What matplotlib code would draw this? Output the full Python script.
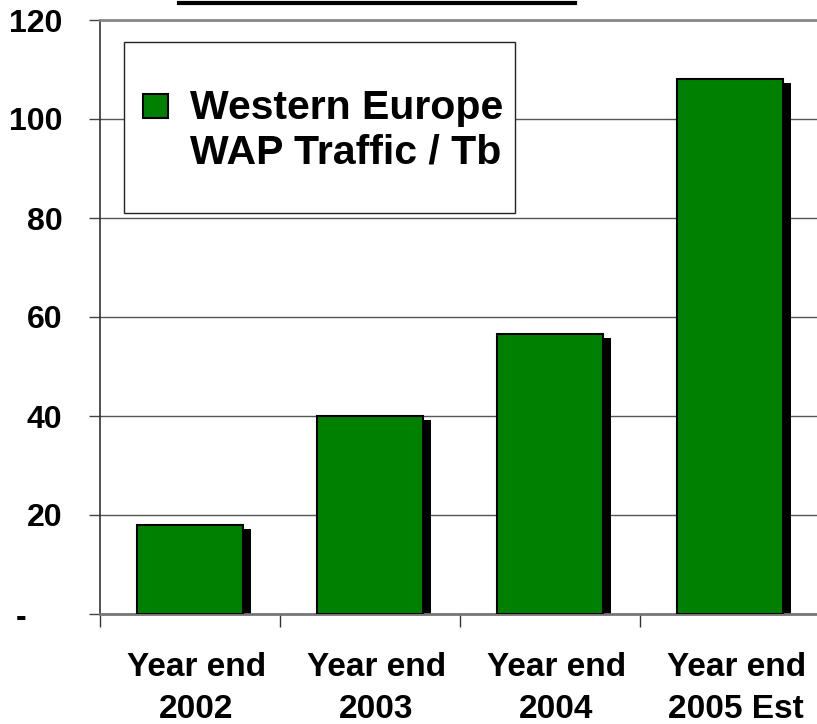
import matplotlib
matplotlib.use('Agg')
from matplotlib import pyplot as plt
from matplotlib.patches import Rectangle
from matplotlib.lines import Line2D

categories = ['Year end\n2002', 'Year end\n2003', 'Year end\n2004', 'Year end\n2005 Est']
traffic = [18, 40, 56.5, 108]
y_ticks = [0, 20, 40, 60, 80, 100, 120]
y_tick_labels = ['-    ', '20', '40', '60', '80', '100', '120']
legend_label = 'Western Europe\nWAP Traffic / Tb'

plt.rcParams['font.family'] = ['Liberation Sans', 'DejaVu Sans']
plt.rcParams['font.weight'] = 'bold'

fig = plt.figure(figsize=(8.17, 7.24), dpi=100)
W, H = 817, 724
ax = fig.add_axes([100 / W, 110 / H, 720 / W, 594 / H])

x = list(range(len(categories)))
width = 0.587
# drop shadow behind each bar
ax.bar([i + 0.044 for i in x], [v - 0.8 for v in traffic], width=width,
       color='black', zorder=2)
ax.bar(x, traffic, width=width, color='#008000', edgecolor='black',
       linewidth=1.5, zorder=3)

ax.set_xlim(-0.5, 3.5)
ax.set_ylim(0, 120)

ax.set_yticks(y_ticks)
ax.set_yticklabels(y_tick_labels, fontsize=23, fontweight='bold')
ax.tick_params(axis='y', length=8, width=1, color='#444444', pad=19)
ax.yaxis.grid(True, color='#555555', linewidth=1, zorder=1)

ax.set_xticks([-0.5, 0.5, 1.5, 2.5, 3.5])
ax.set_xticklabels([])
ax.tick_params(axis='x', which='major', length=9, width=1, color='#333333')
# category labels sit a little right of the bar centres
ax.set_xticks([i + 0.035 for i in x], minor=True)
ax.set_xticklabels(categories, minor=True, fontsize=24, fontweight='bold',
                   linespacing=1.44)
ax.tick_params(axis='x', which='minor', length=0, pad=27.5)

ax.spines['right'].set_visible(False)
ax.spines['top'].set_color('#888888')
ax.spines['top'].set_linewidth(2)
ax.spines['bottom'].set_color('#777777')
ax.spines['bottom'].set_linewidth(2)
ax.spines['left'].set_color('#333333')
ax.spines['left'].set_linewidth(1.2)
ax.set_axisbelow(True)

# legend box drawn by hand
fig.add_artist(Rectangle((124 / W, 1 - 213 / H), 391 / W, 171 / H,
                         transform=fig.transFigure, facecolor='white',
                         edgecolor='#222222', linewidth=1, zorder=5))
fig.add_artist(Rectangle((143 / W, 1 - 118 / H), 25 / W, 24 / H,
                         transform=fig.transFigure, facecolor='#008000',
                         edgecolor='black', linewidth=1.5, zorder=6))
fig.text(190 / W, 1 - 130 / H, legend_label, fontsize=29.5, fontweight='bold',
         ha='left', va='center', linespacing=1.2, zorder=7)

# underline of a title cut off at the top edge
fig.add_artist(Line2D([179 / W, 575 / W], [1 - 3 / H, 1 - 3 / H],
                      color='black', linewidth=3, transform=fig.transFigure))

fig.savefig('out.png', dpi=100)
